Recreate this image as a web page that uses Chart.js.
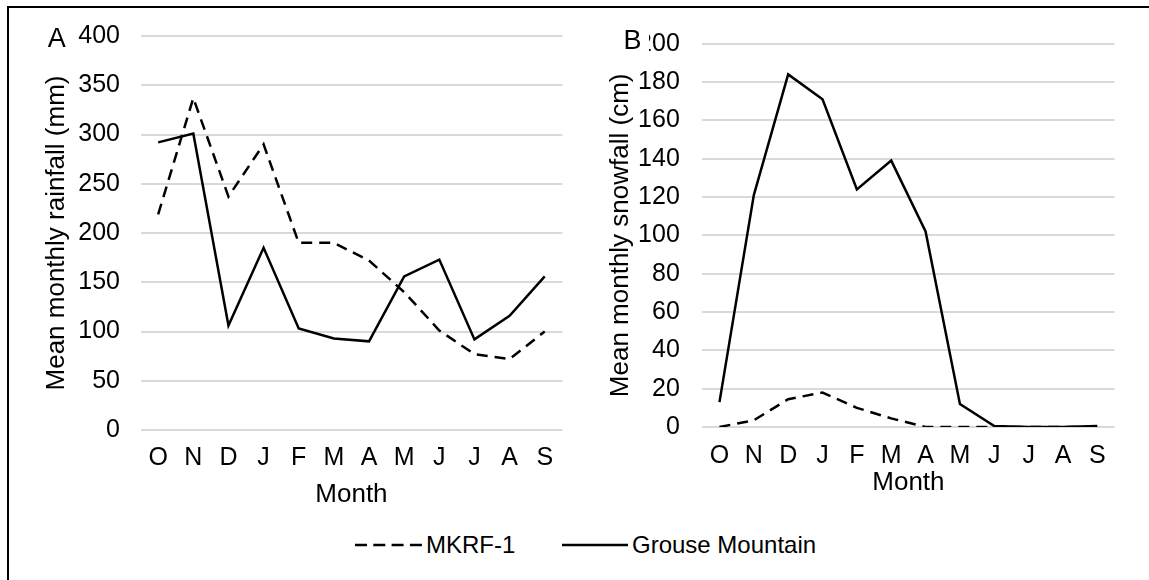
<!DOCTYPE html>
<html>
<head>
<meta charset="utf-8">
<title>Mean monthly rainfall and snowfall</title>
<script src="https://cdn.jsdelivr.net/npm/chart.js@4.4.1/dist/chart.umd.min.js"></script>
<style>
  html, body { margin: 0; padding: 0; background: #fff; width: 1149px; height: 580px; overflow: hidden; }
  body { position: relative; font-family: "Liberation Sans", Arial, sans-serif; color: #000; }
  #frame { position: absolute; left: 7px; top: 6px; width: 1200px; height: 620px;
           border-top: 2px solid #000; border-left: 2px solid #000; }
  canvas { position: absolute; top: 0; }
  #chartA { left: 0; }
  #chartB { left: 580px; }
  .key-line { position: absolute; top: 535px; }
  .key-text { position: absolute; top: 531px; font-size: 24px; line-height: 28px; white-space: nowrap; }
</style>
</head>
<body>
<div id="frame"></div>
<canvas id="chartA" width="580" height="520"></canvas>
<canvas id="chartB" width="569" height="520"></canvas>

<svg class="key-line" style="left:355px" width="67" height="20">
  <line x1="0" y1="10" x2="67" y2="10" stroke="#000" stroke-width="2.5" stroke-dasharray="12 6.3"></line>
</svg>
<div class="key-text" style="left:426px">MKRF-1</div>
<svg class="key-line" style="left:562px" width="66" height="20">
  <line x1="0" y1="10" x2="66" y2="10" stroke="#000" stroke-width="2.5"></line>
</svg>
<div class="key-text" style="left:632px">Grouse Mountain</div>

<script>
// Hydrological year, October to September
const months = ['O', 'N', 'D', 'J', 'F', 'M', 'A', 'M', 'J', 'J', 'A', 'S'];

// Mean monthly rainfall (mm)
const rainMKRF   = [219, 337, 237, 290, 190, 190, 172, 140, 101, 77, 72, 100];
const rainGrouse = [292, 301, 106, 185, 103, 93, 90, 156, 173, 92, 116, 156];

// Mean monthly snowfall (cm)
const snowMKRF   = [0, 3.5, 14.5, 18, 10, 4.5, 0, 0, 0, 0, 0, 0];
const snowGrouse = [13, 121, 184, 171, 124, 139, 102, 12, 0.5, 0, 0, 0.5];

// Axis ranges and steps
const rainAxis = { min: 0, max: 400, step: 50 };
const snowAxis = { min: 0, max: 200, step: 20 };

const FAMILY = '"Liberation Sans", Arial, sans-serif';
const TEXT = '#000';
const GRID = '#d9d9d9';

// Draws the panel letter; an optional white box sits behind it.
const panelTag = {
  id: 'panelTag',
  afterDraw(chart, args, opts) {
    if (!opts || !opts.text) return;
    const ctx = chart.ctx;
    ctx.save();
    if (opts.mask) {
      ctx.fillStyle = '#fff';
      ctx.fillRect(opts.mask[0], opts.mask[1], opts.mask[2], opts.mask[3]);
    }
    ctx.fillStyle = TEXT;
    ctx.font = '27px ' + FAMILY;
    ctx.textAlign = 'center';
    ctx.textBaseline = 'middle';
    ctx.fillText(opts.text, opts.x, opts.y);
    ctx.restore();
  }
};

function series(mkrf, grouse) {
  return [
    { label: 'MKRF-1', data: mkrf, borderColor: '#000', borderWidth: 2.5,
      borderDash: [11, 7], pointRadius: 0, tension: 0, fill: false },
    { label: 'Grouse Mountain', data: grouse, borderColor: '#000', borderWidth: 2.5,
      pointRadius: 0, tension: 0, fill: false }
  ];
}

function makeChart(id, cfg) {
  return new Chart(document.getElementById(id), {
    type: 'line',
    data: { labels: months, datasets: series(cfg.mkrf, cfg.grouse) },
    plugins: [panelTag],
    options: {
      responsive: false,
      animation: false,
      devicePixelRatio: 1,
      layout: { padding: cfg.padding },
      plugins: {
        legend: { display: false },
        tooltip: { enabled: false },
        panelTag: cfg.tag
      },
      scales: {
        x: {
          offset: true,
          grid: { display: false, drawTicks: false },
          border: { display: false },
          ticks: { color: TEXT, font: { family: FAMILY, size: 25 }, padding: cfg.xTickPad,
                   autoSkip: false, maxRotation: 0 },
          title: { display: true, text: 'Month', color: TEXT,
                   font: { family: FAMILY, size: 26 }, padding: 0 },
          afterFit(scale) { scale.height = cfg.xHeight; }
        },
        y: {
          min: cfg.axis.min,
          max: cfg.axis.max,
          grid: { color: GRID, lineWidth: 2, drawTicks: false },
          border: { display: false },
          ticks: { stepSize: cfg.axis.step, color: TEXT, font: { family: FAMILY, size: 25 },
                   padding: cfg.yTickPad },
          title: { display: true, text: cfg.yTitle, color: TEXT,
                   font: { family: FAMILY, size: 26 }, padding: { top: cfg.yTitlePad, bottom: 0 } },
          afterFit(scale) { scale.width = cfg.yWidth; }
        }
      }
    }
  });
}

makeChart('chartA', {
  mkrf: rainMKRF, grouse: rainGrouse, axis: rainAxis,
  yTitle: 'Mean monthly rainfall (mm)',
  padding: { left: 0, top: 36, right: 17.7, bottom: 10 },
  yWidth: 140.6, yTickPad: 20.6, yTitlePad: 41.4,
  xHeight: 80, xTickPad: 13.5,
  tag: { text: 'A', x: 56.7, y: 40 }
});

makeChart('chartB', {
  mkrf: snowMKRF, grouse: snowGrouse, axis: snowAxis,
  yTitle: 'Mean monthly snowfall (cm)',
  padding: { left: 0, top: 43.7, right: 34.5, bottom: 21.7 },
  yWidth: 122.3, yTickPad: 22.5, yTitlePad: 24.9,
  xHeight: 71.3, xTickPad: 13.8,
  tag: { text: 'B', x: 52.5, y: 42, mask: [40, 28, 29, 30] }
});
</script>
</body>
</html>
